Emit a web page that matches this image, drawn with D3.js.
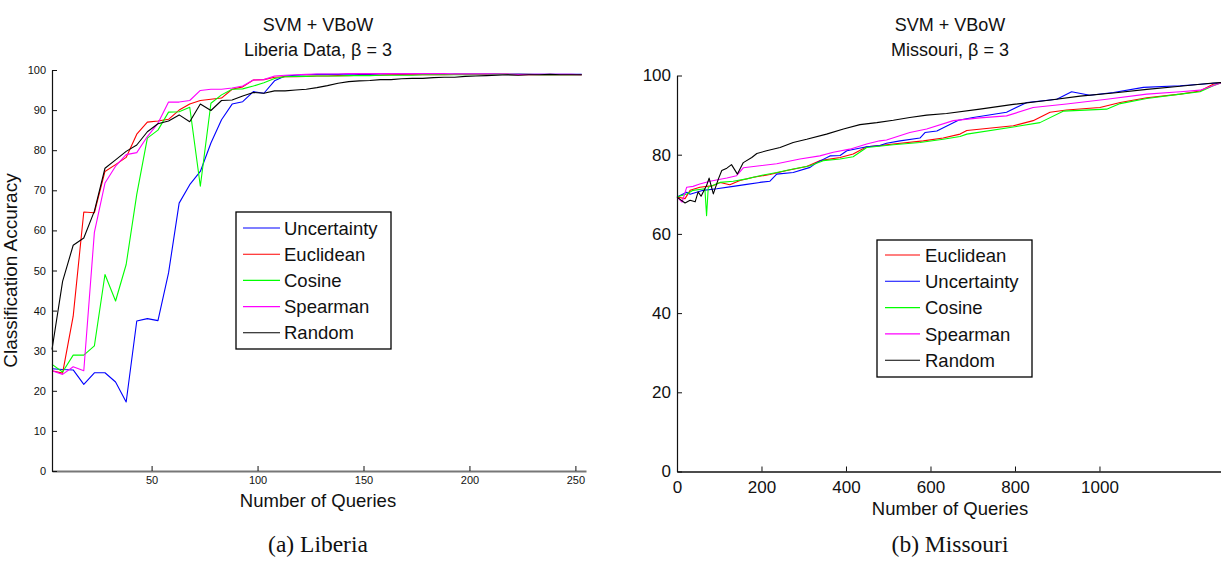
<!DOCTYPE html>
<html>
<head>
<meta charset="utf-8">
<script src="https://cdn.jsdelivr.net/npm/d3@7/dist/d3.min.js"></script>
<style>
  body { margin: 0; background: #fff; }
  svg { display: block; font-family: 'Liberation Sans', Arial, sans-serif; }
</style>
</head>
<body>
<svg id="fig" width="1221" height="569"></svg>
<script>
// ---- Liberia (left panel) ----
const liberiaQueries = [3, 8, 13, 18, 23, 28, 33, 38, 43, 48, 53, 58, 63, 68, 73, 78, 83, 88, 93, 98,
  103, 108, 113, 118, 123, 128, 133, 138, 143, 148, 153, 158, 163, 168, 173, 178, 183, 188, 193, 198,
  203, 208, 213, 218, 223, 228, 233, 238, 243, 248, 253];

const liberiaUncertainty = [25.5, 25.3, 25.2, 21.6, 24.5, 24.5, 22.2, 17.2, 37.4, 38.0, 37.5, 49.4, 66.8, 71.4, 74.7, 81.8,
  87.6, 91.5, 92.1, 94.6, 94.2, 97.3, 98.5, 98.7, 98.8, 98.9, 98.9, 98.9, 99.0, 98.9, 98.9, 99.0, 99.0, 98.9,
  99.0, 99.0, 99.0, 98.9, 99.0, 99.0, 99.0, 99.0, 99.0, 98.9, 99.0, 98.9, 98.9, 98.9, 98.9, 98.9, 98.9];
const liberiaEuclidean = [25.0, 24.4, 38.6, 64.6, 64.4, 74.7, 76.4, 78.2, 84.0, 87.0, 87.3, 87.7, 90.0, 91.5, 92.4, 92.7,
  93.0, 95.2, 95.8, 97.5, 97.6, 98.2, 98.3, 98.3, 98.4, 98.5, 98.5, 98.6, 98.6, 98.7, 98.7, 98.7, 98.8, 98.8,
  98.8, 98.8, 98.8, 98.8, 98.9, 98.9, 98.9, 98.9, 98.9, 98.9, 98.8, 98.8, 98.8, 98.8, 98.8, 98.8, 98.8];
const liberiaCosine = [26.6, 24.7, 28.9, 28.9, 31.2, 49.0, 42.4, 51.5, 69.0, 83.0, 85.0, 89.5, 89.6, 90.7, 71.0, 91.7,
  93.8, 95.2, 95.3, 96.0, 96.8, 97.9, 98.3, 98.4, 98.4, 98.5, 98.5, 98.5, 98.6, 98.6, 98.6, 98.7, 98.7, 98.7,
  98.7, 98.8, 98.8, 98.8, 98.8, 98.8, 98.8, 98.8, 98.9, 98.9, 98.9, 98.9, 98.8, 98.8, 98.8, 98.8, 98.8];
const liberiaSpearman = [25.0, 24.1, 26.0, 25.0, 59.5, 71.8, 76.0, 78.9, 79.4, 83.4, 86.7, 92.0, 92.0, 92.4, 94.9, 95.2,
  95.2, 95.5, 96.0, 97.5, 97.6, 98.5, 98.7, 98.8, 98.9, 99.0, 99.0, 99.0, 99.1, 99.1, 99.1, 99.1, 99.1, 99.1,
  99.1, 99.1, 99.1, 99.1, 99.0, 99.0, 99.0, 99.0, 99.0, 99.0, 98.9, 98.9, 98.9, 98.9, 98.9, 98.9, 98.8];
const liberiaRandom = [30.3, 47.3, 56.3, 58.1, 64.8, 75.5, 77.6, 79.7, 81.3, 84.6, 86.6, 87.3, 88.8, 87.1, 91.5, 89.9,
  92.4, 92.5, 93.5, 94.4, 94.2, 94.8, 94.8, 95.0, 95.2, 95.6, 96.1, 96.7, 97.1, 97.3, 97.4, 97.6, 97.6, 97.8,
  97.9, 97.9, 98.1, 98.2, 98.2, 98.4, 98.5, 98.6, 98.7, 98.8, 98.7, 98.8, 98.8, 98.9, 98.8, 98.8, 98.8];

const liberiaXTicks = [50, 100, 150, 200, 250];
const liberiaYTicks = [0, 10, 20, 30, 40, 50, 60, 70, 80, 90, 100];

// ---- Missouri (right panel), [queries, accuracy] ----
const missouriEuclidean = [[0, 69.3], [19, 68.9], [31, 71.0], [54, 71.8], [86, 72.2], [102, 73.0], [125, 72.4], [149, 73.5],
  [181, 74.3], [220, 75.0], [260, 76.0], [307, 77.0], [338, 78.5], [386, 79.3], [417, 80.2], [449, 82.0], [480, 82.3],
  [512, 82.7], [583, 83.5], [630, 84.2], [670, 85.2], [686, 86.1], [796, 87.3], [843, 88.6], [883, 90.7], [922, 91.3],
  [1001, 91.9], [1049, 93.2], [1112, 94.4], [1191, 95.3], [1238, 96.1], [1269, 97.8], [1290, 98.2]];
const missouriUncertainty = [[0, 69.3], [23, 70.5], [31, 70.0], [62, 71.0], [94, 71.4], [133, 72.0], [165, 72.5], [196, 73.0],
  [220, 73.3], [236, 75.1], [275, 75.5], [315, 76.8], [331, 78.0], [362, 79.7], [386, 79.8], [402, 81.0], [449, 82.0],
  [480, 82.3], [496, 82.9], [528, 83.5], [575, 84.2], [587, 85.6], [615, 86.0], [666, 88.7], [701, 89.4], [780, 90.7],
  [828, 93.2], [899, 94.0], [934, 95.9], [977, 95.0], [1033, 95.7], [1104, 97.0], [1191, 97.4], [1290, 98.2]];
const missouriCosine = [[0, 69.3], [23, 70.1], [38, 71.0], [66, 71.4], [70, 64.6], [74, 71.8], [102, 73.0], [133, 73.3],
  [165, 73.9], [196, 74.7], [236, 75.5], [275, 76.4], [315, 77.2], [346, 78.5], [386, 78.9], [417, 79.5], [449, 81.8],
  [512, 82.5], [575, 83.1], [630, 83.9], [670, 84.6], [686, 85.2], [796, 87.0], [859, 88.1], [914, 91.0], [1017, 91.5],
  [1049, 92.9], [1112, 94.2], [1191, 95.3], [1238, 95.9], [1269, 97.4], [1290, 98.2]];
const missouriSpearman = [[0, 69.3], [12, 68.0], [23, 71.8], [38, 72.0], [54, 72.6], [78, 73.3], [118, 74.1], [141, 74.7],
  [157, 76.7], [196, 77.2], [236, 77.7], [291, 78.9], [338, 79.7], [370, 80.6], [409, 81.4], [449, 82.7], [480, 83.5],
  [496, 83.7], [551, 85.6], [591, 86.5], [654, 88.6], [717, 89.3], [780, 89.8], [843, 91.9], [922, 92.8], [1017, 94.0],
  [1112, 95.3], [1191, 95.9], [1238, 96.3], [1290, 98.2]];
const missouriRandom = [[0, 69.3], [19, 67.8], [31, 68.5], [43, 68.1], [50, 70.6], [57, 69.5], [70, 72.2], [76, 74.1],
  [86, 70.1], [98, 73.9], [106, 76.0], [118, 76.6], [129, 77.5], [143, 75.1], [157, 78.0], [177, 79.3], [189, 80.3],
  [212, 81.0], [244, 81.8], [275, 83.1], [307, 83.9], [354, 85.2], [394, 86.5], [433, 87.6], [473, 88.1], [512, 88.7],
  [551, 89.4], [591, 90.0], [638, 90.4], [717, 91.5], [796, 92.7], [875, 93.7], [954, 94.8], [1033, 95.6], [1112, 96.5],
  [1191, 97.3], [1269, 98.1], [1290, 98.2]];

const missouriXTicks = [0, 200, 400, 600, 800, 1000];
const missouriYTicks = [0, 20, 40, 60, 80, 100];

const colors = { Uncertainty: '#0000ff', Euclidean: '#ff0000', Cosine: '#00ff00', Spearman: '#ff00ff', Random: '#000000' };

class LineChart {
  constructor(_config, _series) {
    this.config = _config;
    this.series = _series;
    this.initVis();
  }

  initVis() {
    let vis = this;
    let c = vis.config;

    vis.xScale = d3.scaleLinear().domain(c.xDomain).range([c.plot.left, c.plot.right]);
    vis.yScale = d3.scaleLinear().domain([0, 100]).range([c.plot.bottom, c.plot.top]);

    // ticks point inward like matlab
    vis.xAxis = d3.axisBottom(vis.xScale)
      .tickValues(c.xTicks)
      .tickFormat(d3.format('d'))
      .tickSize(-5)
      .tickSizeOuter(0)
      .tickPadding(c.xTickPad);
    vis.yAxis = d3.axisLeft(vis.yScale)
      .tickValues(c.yTicks)
      .tickSize(-5)
      .tickSizeOuter(0)
      .tickPadding(6);

    vis.g = d3.select(c.parentElement).append('g');

    vis.linesG = vis.g.append('g');
    vis.xAxisG = vis.g.append('g').attr('transform', `translate(0,${c.plot.bottom})`);
    vis.yAxisG = vis.g.append('g').attr('transform', `translate(${c.plot.left},0)`);

    // titles
    c.title.forEach((t, i) => {
      vis.g.append('text')
        .attr('x', c.titleX)
        .attr('y', 31 + i * 25)
        .attr('text-anchor', 'middle')
        .attr('font-size', 18)
        .attr('fill', '#111')
        .text(t);
    });

    vis.g.append('text')
      .attr('x', c.titleX)
      .attr('y', c.xLabelY)
      .attr('text-anchor', 'middle')
      .attr('font-size', 18.5)
      .attr('fill', '#111')
      .text('Number of Queries');

    if (c.yLabel) {
      vis.g.append('text')
        .attr('transform', `translate(${c.yLabelX},${(c.plot.top + c.plot.bottom) / 2}) rotate(-90)`)
        .attr('text-anchor', 'middle')
        .attr('font-size', 19)
        .attr('fill', '#111')
        .text(c.yLabel);
    }

    vis.g.append('text')
      .attr('x', c.titleX)
      .attr('y', 552)
      .attr('text-anchor', 'middle')
      .attr('font-family', "'Liberation Serif', 'Times New Roman', serif")
      .attr('font-size', 23.5)
      .attr('fill', '#111')
      .text(c.caption);

    vis.updateVis();
  }

  updateVis() {
    let vis = this;
    vis.xValue = d => d[0];
    vis.yValue = d => d[1];
    vis.line = d3.line()
      .x(d => vis.xScale(vis.xValue(d)))
      .y(d => vis.yScale(vis.yValue(d)));
    vis.renderVis();
  }

  renderVis() {
    let vis = this;
    let c = vis.config;

    vis.linesG.selectAll('.series')
      .data(vis.series)
      .join('path')
      .attr('class', 'series')
      .attr('fill', 'none')
      .attr('stroke', d => colors[d.name])
      .attr('stroke-width', 1.1)
      .attr('stroke-linejoin', 'round')
      .attr('d', d => vis.line(d.values));

    vis.xAxisG.call(vis.xAxis)
      .call(g => g.select('.domain').attr('stroke', c.xAxisColor).attr('stroke-width', c.xAxisWidth))
      .call(g => g.selectAll('.tick line').attr('stroke', '#111'))
      .call(g => g.selectAll('.tick text')
        .attr('font-size', c.tickFont)
        .attr('font-family', "'Liberation Sans', Arial, sans-serif")
        .attr('fill', '#111'));

    vis.yAxisG.call(vis.yAxis)
      .call(g => g.select('.domain').attr('stroke', '#111').attr('stroke-width', 1.2))
      .call(g => g.selectAll('.tick line').attr('stroke', '#111'))
      .call(g => g.selectAll('.tick text')
        .attr('font-size', c.tickFont)
        .attr('font-family', "'Liberation Sans', Arial, sans-serif")
        .attr('fill', '#111'));

    // legend box
    let lg = c.legend;
    let legend = vis.g.append('g');
    legend.append('rect')
      .attr('x', lg.x).attr('y', lg.y)
      .attr('width', lg.w).attr('height', lg.h)
      .attr('fill', '#fff')
      .attr('stroke', '#000')
      .attr('stroke-width', 1.3);

    let rows = legend.selectAll('.row')
      .data(vis.series)
      .join('g')
      .attr('class', 'row')
      .attr('transform', (d, i) => `translate(0,${lg.rowTop + i * lg.rowStep})`);

    rows.append('line')
      .attr('x1', lg.lineX0).attr('x2', lg.lineX1)
      .attr('stroke', d => colors[d.name])
      .attr('stroke-width', 1.1);

    rows.append('text')
      .attr('x', lg.textX)
      .attr('dy', '0.36em')
      .attr('font-size', 18.5)
      .attr('fill', '#111')
      .text(d => d.name);
  }
}

const liberiaSeries = [
  { name: 'Uncertainty', vals: liberiaUncertainty },
  { name: 'Euclidean', vals: liberiaEuclidean },
  { name: 'Cosine', vals: liberiaCosine },
  { name: 'Spearman', vals: liberiaSpearman },
  { name: 'Random', vals: liberiaRandom }
].map(s => ({ name: s.name, values: liberiaQueries.map((q, i) => [q, s.vals[i]]) }));

const missouriSeries = [
  { name: 'Euclidean', values: missouriEuclidean },
  { name: 'Uncertainty', values: missouriUncertainty },
  { name: 'Cosine', values: missouriCosine },
  { name: 'Spearman', values: missouriSpearman },
  { name: 'Random', values: missouriRandom }
];

new LineChart({
  parentElement: '#fig',
  plot: { left: 52, right: 586, top: 70, bottom: 471 },
  xDomain: [3, 255],
  xTicks: liberiaXTicks,
  yTicks: liberiaYTicks,
  tickFont: 11,
  xTickPad: 5,
  xAxisColor: '#777',
  xAxisWidth: 2,
  title: ['SVM + VBoW', 'Liberia Data, \u03B2 = 3'],
  titleX: 318,
  xLabelY: 507,
  yLabel: 'Classification Accuracy',
  yLabelX: 17,
  caption: '(a) Liberia',
  legend: { x: 236, y: 212, w: 155, h: 137, rowTop: 228, rowStep: 26.2, lineX0: 243, lineX1: 280, textX: 284 }
}, liberiaSeries);

new LineChart({
  parentElement: '#fig',
  plot: { left: 677, right: 1222, top: 75.5, bottom: 471.5 },
  xDomain: [0, 1290],
  xTicks: missouriXTicks,
  yTicks: missouriYTicks,
  tickFont: 17,
  xTickPad: 9,
  xAxisColor: '#111',
  xAxisWidth: 1.3,
  title: ['SVM + VBoW', 'Missouri, \u03B2 = 3'],
  titleX: 950,
  xLabelY: 515,
  yLabel: null,
  caption: '(b) Missouri',
  legend: { x: 877, y: 240, w: 155, h: 137, rowTop: 255, rowStep: 26.3, lineX0: 885, lineX1: 920, textX: 925 }
}, missouriSeries);
</script>
</body>
</html>
